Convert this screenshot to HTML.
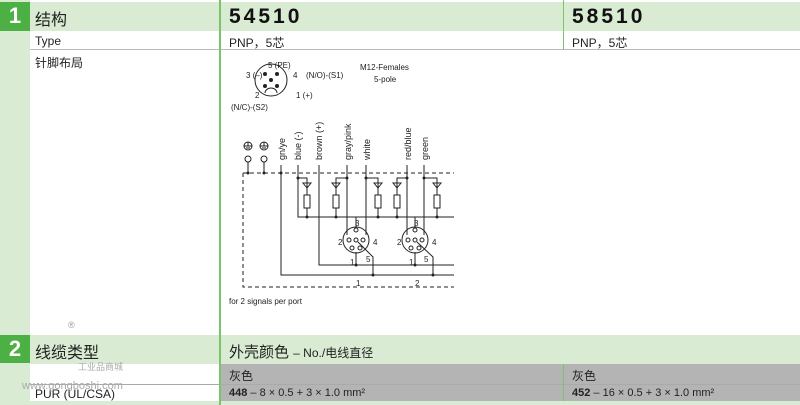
<!DOCTYPE html>
<html><head><meta charset="utf-8"><style>
body{margin:0;width:800px;height:405px;position:relative;overflow:hidden;background:#fff;font-family:"Liberation Sans","Noto Sans CJK SC",sans-serif;color:#222}
.a{position:absolute}
.lg{background:#d9ebd3}
.dg{background:#4db045;color:#fff;font-weight:bold;font-size:22px;text-align:center;line-height:28px}
.t{position:absolute;white-space:nowrap}
.n{position:absolute;font-size:21px;font-weight:bold;letter-spacing:3px;top:5px;color:#111}
</style></head><body>
<div class="a lg" style="left:0;top:0;width:30px;height:405px"></div>
<div class="a lg" style="left:30px;top:2px;width:770px;height:29px"></div>
<div class="a dg" style="left:0;top:2px;width:30px;height:29px">1</div>
<div class="a" style="left:30px;top:49px;width:770px;height:1px;background:#bbb"></div>
<div class="a lg" style="left:30px;top:335px;width:770px;height:29px"></div>
<div class="a dg" style="left:0;top:335px;width:30px;height:28px">2</div>
<div class="a" style="left:220px;top:364px;width:580px;height:37px;background:#b4b4b4"></div>
<div class="a" style="left:30px;top:384px;width:770px;height:1px;background:#aaa"></div>
<div class="a lg" style="left:30px;top:401px;width:770px;height:4px"></div>
<div class="a" style="left:219px;top:0;width:2px;height:405px;background:#7cc46c"></div>
<div class="a" style="left:563px;top:0;width:1px;height:50px;background:#7cc46c"></div>
<div class="a" style="left:563px;top:364px;width:1px;height:37px;background:#7cc46c"></div>
<div class="t" style="left:35px;top:6px;font-size:16px">结构</div>
<div class="n" style="left:229px">54510</div>
<div class="n" style="left:572px">58510</div>
<div class="t" style="left:35px;top:34px;font-size:12px">Type</div>
<div class="t" style="left:229px;top:34px;font-size:12px">PNP，5芯</div>
<div class="t" style="left:572px;top:34px;font-size:12px">PNP，5芯</div>
<div class="t" style="left:35px;top:54px;font-size:12px">针脚布局</div>
<div class="t" style="left:35px;top:339px;font-size:16px">线缆类型</div>
<div class="t" style="left:229px;top:341px;font-size:15px">外壳颜色 <span style="font-size:12px">– No./电线直径</span></div>
<div class="t" style="left:229px;top:367px;font-size:12px">灰色</div>
<div class="t" style="left:572px;top:367px;font-size:12px">灰色</div>
<div class="t" style="left:229px;top:387px;font-size:11px"><b>448</b> – 8 × 0.5 + 3 × 1.0 mm²</div>
<div class="t" style="left:572px;top:387px;font-size:11px"><b>452</b> – 16 × 0.5 + 3 × 1.0 mm²</div>
<div class="t" style="left:35px;top:387px;font-size:12px">PUR (UL/CSA)</div>
<div class="t" style="left:22px;top:380px;font-size:11px;color:#aaa">www.gongboshi.com</div>
<div class="t" style="left:78px;top:360px;font-size:9px;color:#aaa">工业品商城</div>
<div class="t" style="left:68px;top:320px;font-size:9px;color:#999">®</div>
<svg class="a" style="left:0;top:0" width="800" height="405" font-family="Liberation Sans, sans-serif" fill="none" stroke="#222" stroke-width="1">
<circle cx="271" cy="80" r="16"/>
<path d="M265 93 a6 5 0 0 1 12 0" />
<g fill="#222" stroke="none"><circle cx="271" cy="80" r="2"/><circle cx="265" cy="74" r="2"/><circle cx="277" cy="74" r="2"/><circle cx="265" cy="86" r="2"/><circle cx="277" cy="86" r="2"/>
<g font-size="8">
<text x="268" y="68">5 (PE)</text><text x="246" y="78">3 (–)</text><text x="293" y="78">4</text><text x="306" y="78">(N/O)-(S1)</text>
<text x="255" y="98">2</text><text x="296" y="98">1 (+)</text><text x="231" y="110">(N/C)-(S2)</text>
<text x="360" y="70">M12-Females</text><text x="374" y="82">5-pole</text>
<text x="229" y="304">for 2 signals per port</text>
<text x="356" y="286">1</text><text x="415" y="286">2</text>
<text x="338" y="245">2</text><text x="373" y="245">4</text><text x="355" y="226">3</text><text x="350" y="265">1</text><text x="366" y="262">5</text>
<text x="397" y="245">2</text><text x="432" y="245">4</text><text x="414" y="226">3</text><text x="409" y="265">1</text><text x="424" y="262">5</text>
</g>
<g font-size="9">
<text transform="translate(285,160) rotate(-90)">gn/ye</text>
<text transform="translate(301,160) rotate(-90)">blue (-)</text>
<text transform="translate(322,160) rotate(-90)">brown (+)</text>
<text transform="translate(351,160) rotate(-90)">gray/pink</text>
<text transform="translate(370,160) rotate(-90)">white</text>
<text transform="translate(411,160) rotate(-90)">red/blue</text>
<text transform="translate(428,160) rotate(-90)">green</text>
</g></g>
<circle cx="248" cy="146" r="4"/><path d="M244 146h8M248 142v4M246 148h4"/>
<circle cx="264" cy="146" r="4"/><path d="M260 146h8M264 142v4M262 148h4"/>
<circle cx="248" cy="159" r="3"/><circle cx="264" cy="159" r="3"/>
<path d="M248 162v11M264 162v11"/>
<path d="M243 173H454M243 173V287H454" stroke-dasharray="4 3"/>
<path d="M281 165V275H454M298 165V217H454M319 165V265H454"/>
<path d="M347 165V235M366 165V235M407 165V235M424 165V235"/>
<path d="M298 178H307V195M347 178H336V195M366 178H378V195M407 178H397V195M424 178H437V195"/>
<path d="M307 205V217M336 205V217M378 205V217M397 205V217M437 205V217"/>
<g fill="#fff"><rect x="304" y="195" width="6" height="13"/><rect x="333" y="195" width="6" height="13"/><rect x="375" y="195" width="6" height="13"/><rect x="394" y="195" width="6" height="13"/><rect x="434" y="195" width="6" height="13"/></g>
<path d="M303 183h8l-4 5z M332 183h8l-4 5z M374 183h8l-4 5z M393 183h8l-4 5z M433 183h8l-4 5z"/>
<circle cx="356" cy="240" r="13"/><circle cx="415" cy="240" r="13"/>
<g><circle cx="356" cy="230" r="2"/><circle cx="349" cy="240" r="2"/><circle cx="356" cy="240" r="2"/><circle cx="363" cy="240" r="2"/><circle cx="352" cy="248" r="2"/><circle cx="360" cy="248" r="2"/>
<circle cx="415" cy="230" r="2"/><circle cx="408" cy="240" r="2"/><circle cx="415" cy="240" r="2"/><circle cx="422" cy="240" r="2"/><circle cx="411" cy="248" r="2"/><circle cx="419" cy="248" r="2"/></g>
<path d="M356 217V228M356 252V265M358 242L373 257V275M415 217V228M415 252V265M417 242L433 257V275"/>
<g fill="#222" stroke="none"><circle cx="248" cy="173" r="1.5"/><circle cx="264" cy="173" r="1.5"/><circle cx="281" cy="173" r="1.5"/><circle cx="347" cy="178" r="1.5"/><circle cx="366" cy="178" r="1.5"/><circle cx="407" cy="178" r="1.5"/><circle cx="424" cy="178" r="1.5"/><circle cx="298" cy="178" r="1.5"/>
<circle cx="307" cy="217" r="1.5"/><circle cx="336" cy="217" r="1.5"/><circle cx="378" cy="217" r="1.5"/><circle cx="397" cy="217" r="1.5"/><circle cx="437" cy="217" r="1.5"/><circle cx="356" cy="265" r="1.5"/><circle cx="415" cy="265" r="1.5"/><circle cx="373" cy="275" r="1.5"/><circle cx="433" cy="275" r="1.5"/></g>
</svg>
</body></html>
